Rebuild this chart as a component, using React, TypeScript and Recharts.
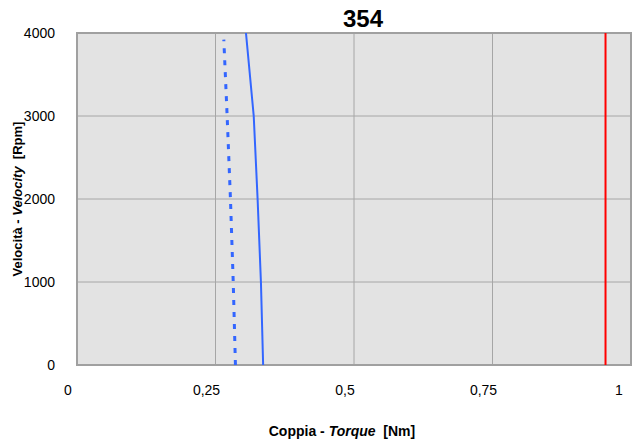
import React from 'react';
import {
  CartesianGrid,
  Label,
  Line,
  LineChart,
  ReferenceArea,
  XAxis,
  YAxis,
} from 'recharts';

const TITLE = '354';
const X_TICKS = [0, 0.25, 0.5, 0.75, 1];
const Y_TICKS = [0, 1000, 2000, 3000, 4000];

// Solid blue curve
const solidCurve = [
  { x: 0.336, y: 0 },
  { x: 0.332, y: 1000 },
  { x: 0.326, y: 2000 },
  { x: 0.319, y: 3000 },
  { x: 0.305, y: 4000 },
];

// Dotted blue curve
const dottedCurve = [
  { x: 0.286, y: 0 },
  { x: 0.282, y: 1000 },
  { x: 0.277, y: 2000 },
  { x: 0.271, y: 3000 },
  { x: 0.265, y: 3920 },
];

// Red limit line
const limitLine = [
  { x: 0.954, y: 0 },
  { x: 0.954, y: 4000 },
];

const FONT = '"Liberation Sans", Arial, sans-serif';
const BLUE = '#3366ff';

function XTick({ x = 0, y = 0, payload }: { x?: number; y?: number; payload?: { value: number } }) {
  const v = payload ? String(payload.value).replace('.', ',') : '';
  return (
    <text x={x - 9} y={y + 30} textAnchor="middle" fontSize={14} fontFamily={FONT} fill="#000">
      {v}
    </text>
  );
}

function YTick({ x = 0, y = 0, payload }: { x?: number; y?: number; payload?: { value: number } }) {
  return (
    <text x={x - 22} y={y + 5} textAnchor="end" fontSize={14} fontFamily={FONT} fill="#000">
      {payload?.value}
    </text>
  );
}

export default function App() {
  return (
    <div style={{ position: 'absolute', left: 0, top: 0, width: 632, height: 444, background: '#fff' }}>
      <div
        style={{
          position: 'absolute',
          left: 363,
          top: 7,
          transform: 'translateX(-50%)',
          fontFamily: FONT,
          fontWeight: 700,
          fontSize: 24,
          lineHeight: '24px',
        }}
      >
        {TITLE}
      </div>
      <LineChart width={632} height={444} margin={{ top: 33, right: 1, bottom: 44, left: 0 }}>
        <CartesianGrid stroke="#a6a6a6" fill="#e3e3e3" fillOpacity={1} />
        <XAxis
          type="number"
          dataKey="x"
          domain={[0, 1]}
          ticks={X_TICKS}
          height={35}
          tickSize={0}
          tickMargin={0}
          tickLine={false}
          axisLine={false}
          tick={<XTick />}
          allowDataOverflow
        >
          <Label
            content={({ viewBox }: any) => (
              <text
                x={viewBox.x + viewBox.width / 2 - 12}
                y={viewBox.y + 71}
                textAnchor="middle"
                fontSize={14}
                fontWeight={700}
                fontFamily={FONT}
                fill="#000"
              >
                Coppia - <tspan fontStyle="italic">Torque</tspan>{'\u00a0 '}[Nm]
              </text>
            )}
          />
        </XAxis>
        <YAxis
          type="number"
          dataKey="y"
          domain={[0, 4000]}
          ticks={Y_TICKS}
          width={77}
          tickSize={0}
          tickMargin={0}
          tickLine={false}
          axisLine={false}
          tick={<YTick />}
          allowDataOverflow
        >
          <Label
            content={({ viewBox }: any) => {
              const cx = viewBox.x + 22;
              const cy = viewBox.y + viewBox.height / 2;
              return (
                <text
                  x={cx}
                  y={cy}
                  transform={`rotate(-90 ${cx} ${cy})`}
                  textAnchor="middle"
                  fontSize={13}
                  fontWeight={700}
                  fontFamily={FONT}
                  fill="#000"
                >
                  Velocità - <tspan fontStyle="italic">Velocity</tspan>{'\u00a0 '}[Rpm]
                </text>
              );
            }}
          />
        </YAxis>
        <ReferenceArea
          x1={0}
          x2={1}
          y1={0}
          y2={4000}
          fill="none"
          stroke="#a0a0a0"
          strokeWidth={2}
          ifOverflow="visible"
        />
        <Line
          data={dottedCurve}
          dataKey="y"
          type="linear"
          stroke={BLUE}
          strokeWidth={3}
          strokeDasharray="5 7"
          dot={false}
          isAnimationActive={false}
        />
        <Line
          data={solidCurve}
          dataKey="y"
          type="linear"
          stroke={BLUE}
          strokeWidth={2}
          dot={false}
          isAnimationActive={false}
        />
        <Line
          data={limitLine}
          dataKey="y"
          type="linear"
          stroke="#ff0000"
          strokeWidth={2}
          dot={false}
          isAnimationActive={false}
        />
      </LineChart>
    </div>
  );
}
